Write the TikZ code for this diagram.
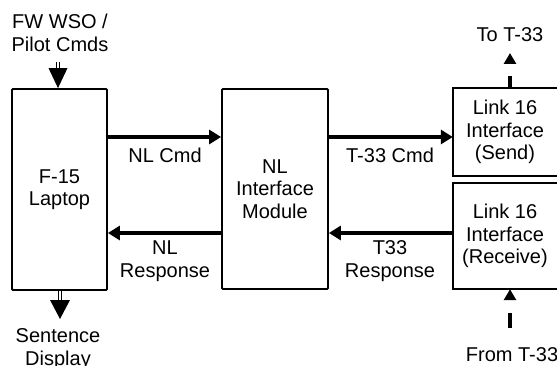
\documentclass[tikz,border=0pt]{standalone}
\usepackage{fontspec}
\setmainfont{Liberation Sans}
\usetikzlibrary{arrows.meta,calc}
\begin{document}
\begin{tikzpicture}[x=1pt,y=-1pt,
  every node/.style={font=\fontsize{20}{22.5}\selectfont, align=center, inner sep=0pt},
  blk/.style={draw, line width=1.8pt, rounded corners=1pt},
  flow/.style={line width=3.6pt, -{Triangle[length=12pt,width=14pt]}},
  dshaft/.style={double, double distance=1.6pt, line width=1.4pt},
  ext/.style={line width=4pt, -{Triangle[length=11pt,width=12pt]}}]
\useasboundingbox (0,0) rectangle (557,366);
\clip (0,0) rectangle (557,366);
% blocks
\node[blk, minimum width=95pt, minimum height=201pt] (lap) at (59.5,189.5) {F-15\\Laptop};
\node[blk, minimum width=106pt, minimum height=200pt] (nl) at (275,189) {NL\\Interface\\Module};
\node[minimum width=104pt, minimum height=88pt] (snd) at (505,132) {Link 16\\Interface\\(Send)};
\node[minimum width=104pt, minimum height=106pt] (rcv) at (505,236) {Link 16\\Interface\\(Receive)};
\draw[line width=1.8pt] ($(snd.north east)+(12,0)$) -- (snd.north west) -- (snd.south west) -- ($(snd.south east)+(12,0)$);
\draw[line width=1.8pt] ($(rcv.north east)+(12,0)$) -- (rcv.north west) -- (rcv.south west) -- ($(rcv.south east)+(12,0)$);
% levels
\coordinate (yc) at (0,137);
\coordinate (yr) at (0,233);
% internal flows
\draw[flow] (lap.east |- yc) -- (nl.west |- yc);
\draw[flow] (nl.west |- yr) -- (lap.east |- yr);
\draw[flow] (nl.east |- yc) -- (snd.west |- yc);
\draw[flow] (rcv.west |- yr) -- (nl.east |- yr);
% flow labels
\node (lc) at (165,155) {NL Cmd};
\node (lr) at (165,261) {NL\\Response};
\node (tc) at (390,155) {T-33 Cmd};
\node (tr) at (390,261) {T33\\Response};
% external
\node (cmds) at (60,33) {FW WSO /\\Pilot Cmds};
\coordinate (cin) at (58,62);
\coordinate (cinh) at (58,70);
\draw[dshaft] (cin) -- (cinh);
\fill (lap.north -| cin) -- ++(-9.5,-20) -- ++(19,0) -- cycle;
\node (disp) at (58,349) {Sentence\\Display};
\coordinate (couth) at (60,301);
\coordinate (cout) at (60,319);
\draw[dshaft] (lap.south -| cout) -- (couth);
\fill (cout) -- ++(-10,-19) -- ++(20,0) -- cycle;
\node (tot) at (510,35) {To T-33};
\coordinate (tout) at (510,53);
\draw[ext, dash pattern=on 12pt off 40pt] (snd.north -| tout) -- (tout);
\node (fromt) at (512,355) {From T-33};
\coordinate (tin) at (510,328);
\draw[ext, dash pattern=on 15pt off 40pt] (tin) -- (rcv.south -| tin);
\end{tikzpicture}
\end{document}
